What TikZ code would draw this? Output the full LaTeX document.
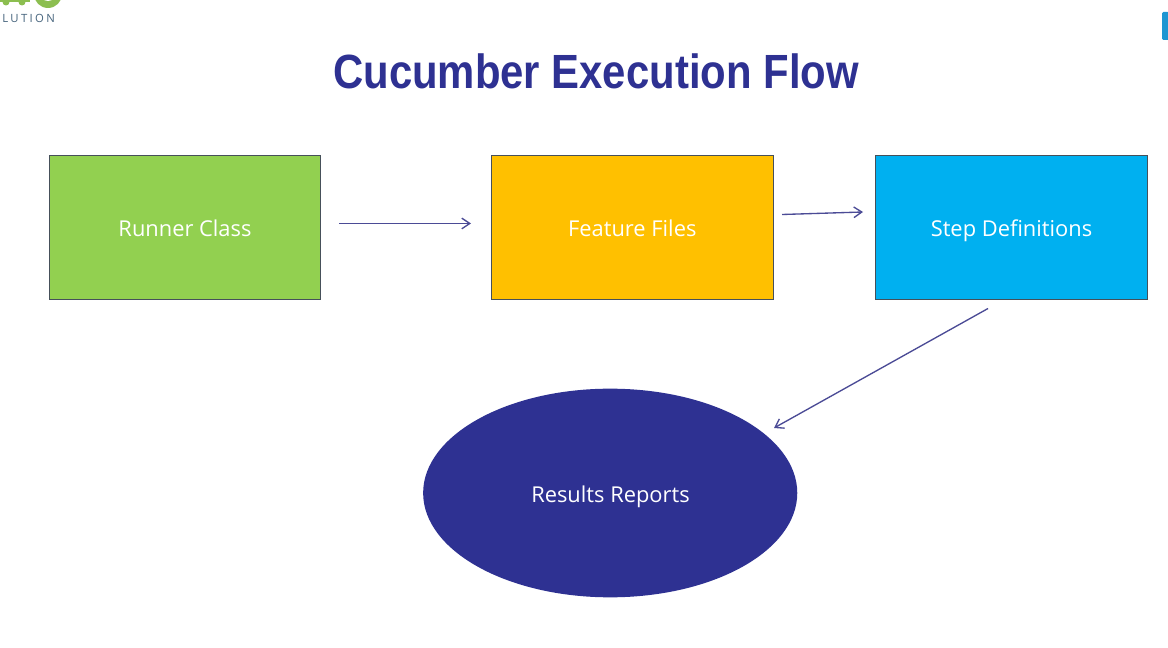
\documentclass[tikz,border=0pt]{standalone}
\usepackage{fontspec}
\setmainfont{Open Sans}
\newfontfamily\titlefont{Liberation Sans}
\usetikzlibrary{shapes.geometric,arrows.meta}
\definecolor{navy}{RGB}{46,49,146}
\definecolor{leaf}{RGB}{146,208,80}
\definecolor{amber}{RGB}{255,192,0}
\definecolor{sky}{RGB}{0,176,240}
\definecolor{edgegrey}{RGB}{70,80,90}
\definecolor{logogreen}{RGB}{140,190,80}
\definecolor{logotext}{RGB}{70,100,125}
\definecolor{tabblue}{RGB}{30,150,210}
\definecolor{arrowcol}{RGB}{75,75,150}
\tikzset{
  px/.style={x=0.75pt,y=-0.75pt},
  flowbox/.style={draw=edgegrey,line width=0.8pt,inner sep=0pt},
  flowarrow/.style={draw=arrowcol,line width=1pt,-{Straight Barb[length=6pt,width=8pt]}},
  flowlabel/.style={text=white,inner sep=0pt,anchor=base,font=\fontsize{16.4}{19}\selectfont},
}
\begin{document}
\begin{tikzpicture}[px]
\useasboundingbox (0,0) rectangle (1168,648);
\fill[white] (0,0) rectangle (1168,648);
% logo fragment
\begin{scope}
\clip (0,0) rectangle (1168,648);
\fill[logogreen] (-2,-8) rectangle (30,2);
\fill[logogreen] (6,2) circle (3.5);
\fill[logogreen] (22,2) circle (3.5);
\fill[logogreen] (48,-6) circle (14);
\fill[white] (48,-7) circle (8);
\end{scope}
\node[text=logotext,font=\fontsize{8.5}{10}\selectfont,anchor=west,inner sep=0pt] (logo) at (2,18) {\addfontfeature{LetterSpace=21}LUTION};
% tab
\fill[tabblue,rounded corners=1pt] (1162,12) rectangle (1169,40);
% title
\node[text=navy,font=\titlefont\bfseries\fontsize{36}{42}\selectfont,inner sep=0pt] (title) at (596,71) {\addfontfeature{FakeStretch=0.872}Cucumber Execution Flow};
% boxes
\node[flowbox,fill=leaf,minimum width=203.4pt,minimum height=108.2pt] (runner) at (185,227.5) {};
\node[flowbox,fill=amber,minimum width=211.5pt,minimum height=108.2pt] (feature) at (632.3,227.5) {};
\node[flowbox,fill=sky,minimum width=203.6pt,minimum height=108.2pt] (steps) at (1011.3,227.5) {};
\node[ellipse,fill=navy,minimum width=280.6pt,minimum height=156.5pt,inner sep=0pt] (results) at (610.2,493) {};
% labels on a shared baseline
\node[flowlabel] (runnerlabel) at (185,237) {Runner Class};
\node[flowlabel] (featurelabel) at (632.3,237) {Feature Files};
\node[flowlabel] (stepslabel) at (1011.5,237) {Step Definitions};
\node[flowlabel] (resultslabel) at (610.5,502.5) {Results Reports};
% connector ends
\coordinate (a1) at (339,223.5);
\coordinate (a2) at (471,223.5);
\coordinate (b1) at (782,214.5);
\coordinate (b2) at (863,212);
\coordinate (c1) at (988,308.5);
\coordinate (c2) at (774,428);
\draw[flowarrow] (a1) -- (a2);
\draw[flowarrow] (b1) -- (b2);
\draw[flowarrow] (c1) -- (c2);
\end{tikzpicture}
\end{document}
